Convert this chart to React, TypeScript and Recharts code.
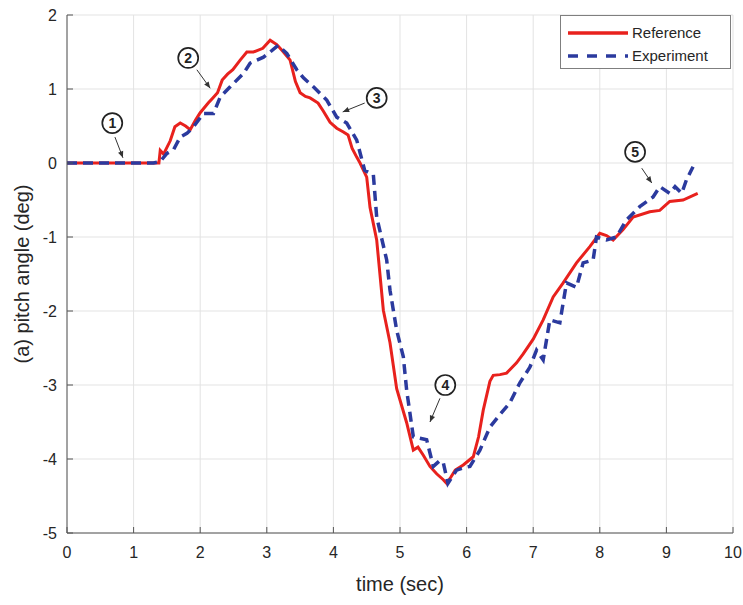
import {
  LineChart,
  Line,
  XAxis,
  YAxis,
  CartesianGrid,
  Legend,
  ReferenceDot,
  ReferenceLine,
} from "recharts";

// time (sec), pitch angle (deg)
const referenceSeries: [number, number][] = [
  [0, 0], [1.38, 0], [1.4, 0.17], [1.45, 0.12], [1.55, 0.3], [1.62, 0.49], [1.7, 0.54],
  [1.78, 0.5], [1.85, 0.45], [1.93, 0.58], [2.0, 0.68], [2.12, 0.81], [2.19, 0.88],
  [2.26, 0.95], [2.33, 1.12], [2.41, 1.2], [2.49, 1.26], [2.6, 1.39], [2.7, 1.5],
  [2.8, 1.5], [2.94, 1.55], [3.05, 1.66], [3.15, 1.6], [3.25, 1.5], [3.35, 1.39],
  [3.43, 1.1], [3.5, 0.95], [3.58, 0.9], [3.65, 0.88], [3.77, 0.81], [3.85, 0.7],
  [3.95, 0.55], [4.05, 0.47], [4.15, 0.42], [4.22, 0.38], [4.28, 0.2], [4.35, 0.08],
  [4.4, 0], [4.5, -0.19], [4.55, -0.6], [4.65, -1.04], [4.75, -1.99], [4.85, -2.43],
  [4.95, -3.05], [5.1, -3.51], [5.2, -3.88], [5.27, -3.84], [5.35, -3.95], [5.45, -4.1],
  [5.55, -4.2], [5.65, -4.28], [5.7, -4.33], [5.76, -4.25], [5.83, -4.15], [5.95, -4.08],
  [6.1, -3.97], [6.18, -3.7], [6.25, -3.34], [6.35, -2.95], [6.4, -2.87], [6.5, -2.86],
  [6.6, -2.84], [6.75, -2.7], [6.85, -2.58], [7.0, -2.38], [7.15, -2.12], [7.3, -1.81],
  [7.45, -1.62], [7.65, -1.35], [7.85, -1.13], [8.0, -0.95], [8.1, -0.98], [8.2, -1.04],
  [8.35, -0.9], [8.5, -0.73], [8.75, -0.66], [8.9, -0.64], [9.05, -0.52], [9.25, -0.5],
  [9.47, -0.41],
];

const experimentSeries: [number, number][] = [
  [0, 0], [1.3, 0], [1.4, 0.02], [1.5, 0.13], [1.6, 0.18], [1.7, 0.35], [1.8, 0.4],
  [1.9, 0.49], [2.05, 0.67], [2.2, 0.67], [2.3, 0.89], [2.45, 1.03], [2.65, 1.21],
  [2.75, 1.35], [2.95, 1.43], [3.05, 1.5], [3.17, 1.59], [3.3, 1.48], [3.45, 1.26],
  [3.55, 1.15], [3.7, 1.03], [3.9, 0.85], [4.05, 0.62], [4.2, 0.54], [4.35, 0.31],
  [4.47, -0.1], [4.6, -0.16], [4.65, -0.73], [4.8, -1.31], [4.85, -1.72], [4.95, -2.26],
  [5.05, -2.62], [5.1, -3.07], [5.2, -3.7], [5.3, -3.72], [5.4, -3.74], [5.5, -4.1],
  [5.6, -4.02], [5.65, -4.05], [5.72, -4.33], [5.85, -4.15], [5.95, -4.12], [6.05, -4.1],
  [6.2, -3.88], [6.35, -3.57], [6.5, -3.4], [6.65, -3.24], [6.8, -2.97], [6.95, -2.76],
  [7.05, -2.53], [7.15, -2.66], [7.2, -2.39], [7.25, -2.12], [7.4, -2.16], [7.45, -1.89],
  [7.5, -1.62], [7.65, -1.68], [7.75, -1.35], [7.9, -1.31], [7.95, -1.0], [8.1, -1.04],
  [8.25, -1.0], [8.4, -0.77], [8.6, -0.59], [8.8, -0.46], [8.9, -0.32], [9.05, -0.41],
  [9.13, -0.32], [9.23, -0.41], [9.3, -0.23], [9.4, -0.05],
];

const xTicks = [0, 1, 2, 3, 4, 5, 6, 7, 8, 9, 10];
const yTicks = [-5, -4, -3, -2, -1, 0, 1, 2];

// circled markers and their arrows, in data units
const noteLabels = ["1", "2", "3", "4", "5"];
const noteX = [0.68, 1.82, 4.65, 5.68, 8.53];
const noteY = [0.54, 1.42, 0.88, -3.0, 0.15];
const arrowFrom: [number, number][] = [[0.72, 0.35], [1.95, 1.26], [4.47, 0.81], [5.6, -3.18], [8.63, -0.07]];
const arrowTo: [number, number][] = [[0.84, 0.07], [2.15, 1.01], [4.14, 0.69], [5.45, -3.5], [8.78, -0.27]];

const FONT = '"Liberation Sans", Arial, sans-serif';
const RED = "#e8211d";
const BLUE = "#2b3a9e";
const AXIS = "#555555";
const TEXT = "#262626";

const toPoints = (s: [number, number][]) => s.map(([t, v]) => ({ t, v }));
const referenceData = toPoints(referenceSeries);
const experimentData = toPoints(experimentSeries);

const legendItems = [
  { name: "Reference", color: RED, dash: undefined as string | undefined },
  { name: "Experiment", color: BLUE, dash: "10 9" },
];

function LegendBox() {
  return (
    <div
      style={{
        width: 171,
        height: 54,
        boxSizing: "border-box",
        border: "1px solid #7f7f7f",
        background: "#fff",
        paddingTop: 5,
        fontFamily: FONT,
        fontSize: 15,
        color: TEXT,
      }}
    >
      {legendItems.map((it) => (
        <div key={it.name} style={{ display: "flex", alignItems: "center", height: 23 }}>
          <svg width={71} height={10} style={{ flex: "none" }}>
            <line x1={7} y1={5} x2={67} y2={5} stroke={it.color} strokeWidth={3.5} strokeDasharray={it.dash} />
          </svg>
          <span>{it.name}</span>
        </div>
      ))}
    </div>
  );
}

function Arrow(props: any) {
  const { x1, y1, x2, y2 } = props;
  const a = Math.atan2(y2 - y1, x2 - x1);
  const len = 7;
  const spread = 0.4;
  const p1x = x2 - len * Math.cos(a - spread);
  const p1y = y2 - len * Math.sin(a - spread);
  const p2x = x2 - len * Math.cos(a + spread);
  const p2y = y2 - len * Math.sin(a + spread);
  return (
    <g>
      <line x1={x1} y1={y1} x2={x2} y2={y2} stroke="#333" strokeWidth={1} />
      <polygon points={`${x2},${y2} ${p1x},${p1y} ${p2x},${p2y}`} fill="#333" />
    </g>
  );
}

function circled(label: string) {
  return (props: any) => (
    <g>
      <circle cx={props.cx} cy={props.cy} r={10} fill="#fff" stroke="#222" strokeWidth={1.7} />
      <text
        x={props.cx}
        y={props.cy + 5}
        textAnchor="middle"
        fontFamily={FONT}
        fontWeight="bold"
        fontSize={14}
        fill="#222"
      >
        {label}
      </text>
    </g>
  );
}

export default function App() {
  return (
    <div style={{ width: 743, height: 605, background: "#fff" }}>
      <style>{`body{margin:0}`}</style>
      <LineChart width={743} height={605} margin={{ top: 15, right: 10, bottom: 22, left: 7 }}>
        <CartesianGrid stroke="#e3e3e3" strokeWidth={1} />
        <XAxis
          dataKey="t"
          type="number"
          domain={[0, 10]}
          ticks={xTicks}
          allowDataOverflow
          height={50}
          stroke={AXIS}
          tickSize={-6}
          tickMargin={20}
          tick={{ fill: TEXT, fontSize: 16, fontFamily: FONT }}
          label={{
            value: "time (sec)",
            position: "insideBottom",
            offset: -8,
            style: { fill: TEXT, fontSize: 20, fontFamily: FONT },
          }}
        />
        <XAxis
          xAxisId="top"
          orientation="top"
          type="number"
          domain={[0, 10]}
          ticks={xTicks}
          height={0}
          stroke={AXIS}
          tickSize={-6}
          tick={false}
        />
        <YAxis
          type="number"
          domain={[-5, 2]}
          ticks={yTicks}
          allowDataOverflow
          width={60}
          stroke={AXIS}
          tickSize={-6}
          tickMargin={16}
          tick={{ fill: TEXT, fontSize: 16, fontFamily: FONT }}
          label={{
            value: "(a) pitch angle (deg)",
            angle: -90,
            position: "insideLeft",
            offset: 15,
            style: { fill: TEXT, fontSize: 20, fontFamily: FONT, textAnchor: "middle" },
          }}
        />
        <YAxis
          yAxisId="right"
          orientation="right"
          type="number"
          domain={[-5, 2]}
          ticks={yTicks}
          width={0}
          stroke={AXIS}
          tickSize={-6}
          tick={false}
        />
        <Line
          data={referenceData}
          dataKey="v"
          name="Reference"
          type="linear"
          stroke={RED}
          strokeWidth={3}
          dot={false}
          isAnimationActive={false}
        />
        <Line
          data={experimentData}
          dataKey="v"
          name="Experiment"
          type="linear"
          stroke={BLUE}
          strokeWidth={3.5}
          strokeDasharray="10 6"
          dot={false}
          isAnimationActive={false}
        />
        {noteLabels.map((lab, i) => (
          <ReferenceLine
            key={`arrow-${lab}`}
            segment={[
              { x: arrowFrom[i][0], y: arrowFrom[i][1] },
              { x: arrowTo[i][0], y: arrowTo[i][1] },
            ]}
            shape={Arrow}
          />
        ))}
        {noteLabels.map((lab, i) => (
          <ReferenceDot key={`note-${lab}`} x={noteX[i]} y={noteY[i]} r={10} shape={circled(lab)} />
        ))}
        <Legend
          layout="vertical"
          align="center"
          verticalAlign="middle"
          content={() => <LegendBox />}
          wrapperStyle={{ position: "absolute", top: 15, left: 560, width: 171, height: 54 }}
        />
      </LineChart>
    </div>
  );
}
